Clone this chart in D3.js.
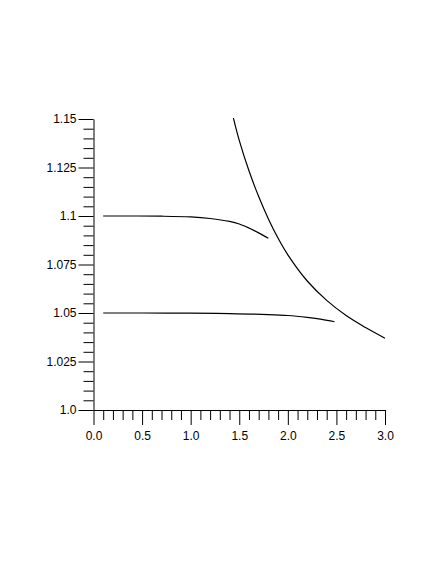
<!DOCTYPE html>
<html>
<head>
<meta charset="utf-8">
<script src="https://cdn.jsdelivr.net/npm/d3@7"></script>
<style>
  html, body { margin: 0; padding: 0; background: #fff; }
  svg { display: block; }
</style>
</head>
<body>
<svg id="chart" width="436" height="564"></svg>
<script>
// ---- data ----
const xMajorTicks = [0.0, 0.5, 1.0, 1.5, 2.0, 2.5, 3.0];
const xTickLabels = ["0.0", "0.5", "1.0", "1.5", "2.0", "2.5", "3.0"];
const yMajorTicks = [1.0, 1.025, 1.05, 1.075, 1.1, 1.125, 1.15];
const yTickLabels = ["1.0", "1.025", "1.05", "1.075", "1.1", "1.125", "1.15"];

const upperX = [0.1, 0.4, 0.7, 1.0, 1.2, 1.4, 1.5, 1.6, 1.7, 1.8];
const upperY = [1.1000, 1.1000, 1.0999, 1.0995, 1.0987, 1.0972, 1.0959, 1.0938, 1.0913, 1.0885];

const lowerX = [0.1, 0.5, 1.0, 1.4, 1.8, 2.0, 2.2, 2.35, 2.48];
const lowerY = [1.0500, 1.0500, 1.0499, 1.0497, 1.0492, 1.0487, 1.0477, 1.0467, 1.0455];

const steepX = [1.44, 1.5, 1.6, 1.7, 1.8, 1.9, 2.0, 2.2, 2.4, 2.6, 2.8, 3.0];
const steepY = [1.1505, 1.1390, 1.1233, 1.1100, 1.0985, 1.0885, 1.0800, 1.0665, 1.0565, 1.0487, 1.0425, 1.0370];

// ---- chart ----
const svg = d3.select("#chart");
const x = d3.scaleLinear().domain([0, 3]).range([93.5, 385]);
const y = d3.scaleLinear().domain([1.0, 1.15]).range([410, 119]);

const font = "'Liberation Sans', Arial, Helvetica, sans-serif";

const xMinor = d3.range(0, 31).map(i => i / 10).filter(v => !xMajorTicks.some(m => Math.abs(m - v) < 1e-9));
const yMinor = d3.range(0, 31).map(i => 1 + i * 0.005).filter(v => !yMajorTicks.some(m => Math.abs(m - v) < 1e-9));

// minor ticks
svg.append("g").attr("transform", `translate(0,${y(1.0)})`)
  .call(d3.axisBottom(x).tickValues(xMinor).tickSize(10).tickSizeOuter(0).tickFormat(""))
  .call(g => g.select(".domain").remove());
svg.append("g").attr("transform", `translate(${x(0)},0)`)
  .call(d3.axisLeft(y).tickValues(yMinor).tickSize(10).tickSizeOuter(0).tickFormat(""))
  .call(g => g.select(".domain").remove());

// major ticks + labels
svg.append("g").attr("transform", `translate(0,${y(1.0)})`)
  .call(d3.axisBottom(x).tickValues(xMajorTicks).tickSize(15).tickSizeOuter(0).tickPadding(6)
    .tickFormat((d, i) => xTickLabels[i]));
svg.append("g").attr("transform", `translate(${x(0)},0)`)
  .call(d3.axisLeft(y).tickValues(yMajorTicks).tickSize(15).tickSizeOuter(0).tickPadding(2)
    .tickFormat((d, i) => yTickLabels[i]));

svg.selectAll(".tick text").attr("font-family", font).attr("font-size", 12).attr("fill", "#000");
svg.selectAll(".tick line, .domain").attr("stroke", "#000").attr("stroke-width", 1);

// curves
const line = d3.line().x(d => x(d[0])).y(d => y(d[1])).curve(d3.curveCatmullRom.alpha(0.5));
const series = [
  d3.zip(upperX, upperY),
  d3.zip(lowerX, lowerY),
  d3.zip(steepX, steepY)
];
svg.append("g").selectAll("path").data(series).join("path")
  .attr("d", line)
  .attr("fill", "none")
  .attr("stroke", "#000")
  .attr("stroke-width", 1.2);
</script>
</body>
</html>
